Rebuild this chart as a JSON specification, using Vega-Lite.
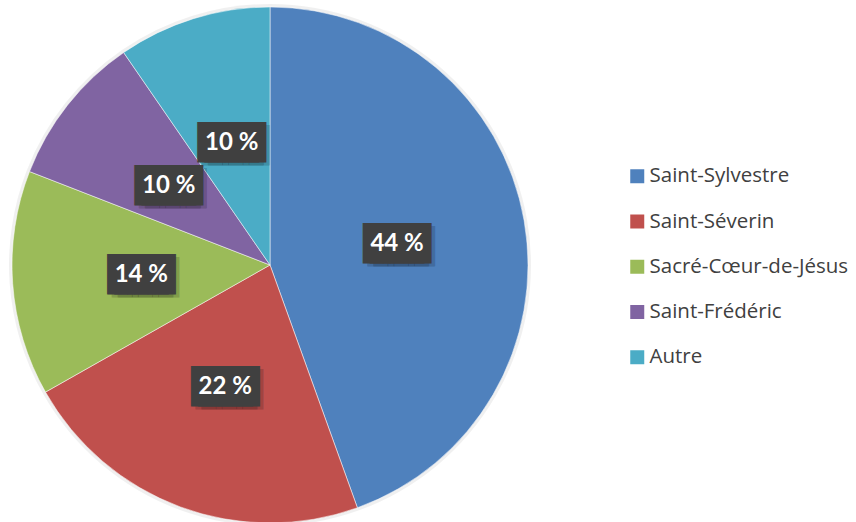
{
  "$schema": "https://vega.github.io/schema/vega-lite/v6.json",
  "autosize": {"type": "none"},
  "width": 540,
  "height": 530,
  "padding": {"left": 0, "top": 0, "right": 316, "bottom": 0},
  "background": "white",
  "config": {"view": {"stroke": null}},
  "data": {
    "values": [
      {"paroisse": "Saint-Sylvestre", "part": 44.5, "label": "44 %", "rang": 1},
      {"paroisse": "Saint-Séverin", "part": 22.3, "label": "22 %", "rang": 2},
      {"paroisse": "Sacré-Cœur-de-Jésus", "part": 14.1, "label": "14 %", "rang": 3},
      {"paroisse": "Saint-Frédéric", "part": 9.5, "label": "10 %", "rang": 4},
      {"paroisse": "Autre", "part": 9.6, "label": "10 %", "rang": 5}
    ]
  },
  "encoding": {
    "theta": {"field": "part", "type": "quantitative", "stack": true},
    "order": {"field": "rang", "type": "quantitative"}
  },
  "layer": [
    {
      "mark": {"type": "arc", "outerRadius": 261, "fill": "#000000", "fillOpacity": 0.06},
      "encoding": {}
    },
    {
      "mark": {"type": "arc", "outerRadius": 258, "stroke": "#ffffff", "strokeWidth": 1, "strokeOpacity": 0.5},
      "encoding": {
        "color": {
          "field": "paroisse",
          "type": "nominal",
          "sort": null,
          "scale": {
            "domain": ["Saint-Sylvestre", "Saint-Séverin", "Sacré-Cœur-de-Jésus", "Saint-Frédéric", "Autre"],
            "range": ["#4F81BD", "#C0504D", "#9BBB59", "#8064A2", "#4BACC6"]
          },
          "legend": {
            "orient": "none",
            "legendX": 627,
            "legendY": 166,
            "title": null,
            "padding": 0,
            "symbolType": "square",
            "symbolSize": 196,
            "symbolStrokeWidth": 0,
            "symbolOpacity": 1,
            "labelFont": "Open Sans",
            "labelFontSize": 20.5,
            "labelColor": "#404040",
            "labelOffset": 2,
            "rowPadding": 24.25,
            "labelLimit": 300
          }
        }
      }
    },
    {
      "mark": {"type": "text", "radius": 129, "font": "DejaVu Sans Mono", "fontSize": 34, "baseline": "alphabetic", "dy": 15, "dx": 1, "fill": "#000000", "fillOpacity": 0.18, "text": "███"},
      "encoding": {}
    },
    {
      "mark": {"type": "text", "radius": 129, "font": "DejaVu Sans Mono", "fontSize": 34, "baseline": "alphabetic", "dy": 15, "dx": 7, "fill": "#000000", "fillOpacity": 0.18, "text": "███"},
      "encoding": {}
    },
    {
      "mark": {"type": "text", "radius": 129, "font": "DejaVu Sans Mono", "fontSize": 34, "baseline": "alphabetic", "dy": 12, "dx": -3.5, "fill": "#404040", "text": "███"},
      "encoding": {}
    },
    {
      "mark": {"type": "text", "radius": 129, "font": "DejaVu Sans Mono", "fontSize": 34, "baseline": "alphabetic", "dy": 12, "dx": 3.5, "fill": "#404040", "text": "███"},
      "encoding": {}
    },
    {
      "mark": {"type": "text", "radius": 129, "font": "Lato", "fontSize": 24, "fontWeight": "bold", "baseline": "middle", "dy": 1, "fill": "#ffffff"},
      "encoding": {"text": {"field": "label", "type": "nominal"}}
    }
  ]
}
